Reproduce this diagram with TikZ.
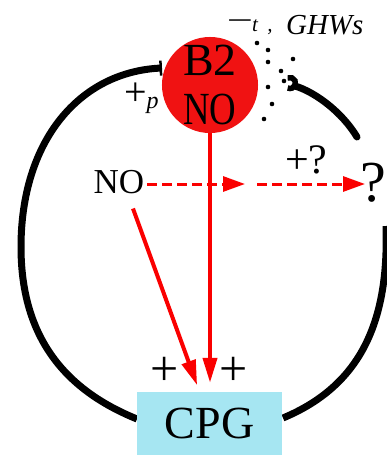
\documentclass[tikz,border=0pt]{standalone}
\usepackage{fontspec}
\setmainfont{Liberation Serif}
\usetikzlibrary{arrows.meta}
\definecolor{cpgblue}{RGB}{166,230,242}
\definecolor{nored}{RGB}{240,18,18}
\definecolor{arrred}{RGB}{250,0,0}
\begin{document}
\begin{tikzpicture}[x=1pt,y=-1pt,
  txt/.style={inner sep=0pt, anchor=base},
  redarr/.style={draw=arrred, line width=4pt, -{Triangle[length=25pt,width=14pt]}},
  dasharr/.style={draw=arrred, line width=3pt, dash pattern=on 10pt off 5pt, -{Triangle[length=22pt,width=15pt]}},
  loopline/.style={line width=7pt, draw=black},
  dotmark/.style={fill=black},
]
\useasboundingbox (0,0) rectangle (387,457);
\clip (0,0) rectangle (387,457);

% nodes
\node[circle, fill=nored, minimum size=96pt, inner sep=0pt, align=center,
      font=\fontsize{46}{49}\selectfont] (b2) at (210,85) {B2\\\scalebox{0.8}[1]{NO}};
\node[txt, font=\fontsize{35}{35}\selectfont] (no) at (119,193) {NO};
\node[txt, anchor=base west, font=\fontsize{58}{58}\selectfont] (qm) at (360.5,201) {?};

% black loop
\coordinate (rtop) at (386,226);
\coordinate (ur) at (357,137);
\coordinate (cup) at (290,83);
\draw[loopline, -{Bar[width=15pt,line width=2.5pt]}]
  (137,419) .. controls (73,393) and (21,345) .. (21,247)
  .. controls (21,140) and (80,72) .. (162,68);
\draw[loopline] (rtop) .. controls (389,320) and (362,385) .. (283,418);
\draw[loopline, line cap=round] (ur) .. controls (342,112) and (315,92) .. (295,86);
\draw[line width=5.5pt] (cup) ++(-115:5.5) arc[start angle=-115,end angle=115,radius=5.5];

% CPG box
\node[fill=cpgblue, minimum width=145pt, minimum height=63pt, inner sep=0pt,
      font=\fontsize{46}{46}\selectfont] (cpg) at (209.5,423.5) {\raisebox{-2.5pt}{CPG}};

% dotted marks
\foreach \p in {(257,43),(268,50),(268,62),(268,87),(272,104),(264,119),(293,59),(281,71),(284,81)}
  \fill[dotmark] \p circle[radius=2.3pt];

% labels
\node[txt, font=\fontsize{30}{30}\selectfont] (mn) at (240,31) {\scalebox{1.55}[1]{−}};
\node[txt, anchor=base west, font=\fontsize{21}{21}\selectfont\itshape] (tl) at (252,32) {t\hspace{0.45em},};
\node[txt, anchor=base west, font=\fontsize{29}{29}\selectfont\itshape] (ghw) at (286,35) {GHWs};
\node[txt, font=\fontsize{40}{40}\selectfont] (pp) at (135.5,106) {+};
\node[txt, anchor=base west, font=\fontsize{24}{24}\selectfont\itshape] (pl) at (146.5,109) {p};
\node[txt, anchor=base west, font=\fontsize{42}{42}\selectfont] (pq) at (285,173) {+?};
\node[txt, font=\fontsize{50}{50}\selectfont] (pl1) at (165,385) {+};
\node[txt, font=\fontsize{50}{50}\selectfont] (pl2) at (233.5,385) {+};

% red arrows
\coordinate (q1) at (245,184);
\coordinate (q2) at (257,184);
\coordinate (q3) at (365,184);
\draw[redarr, shorten >=9pt] (b2.south) -- (b2.south |- cpg.north);
\draw[redarr, shorten >=7pt] ([xshift=14pt,yshift=-15pt]no.south) -- ([xshift=-10pt]cpg.north);
\draw[dasharr] ([xshift=3pt]no.east |- q1) -- (q1);
\draw[dasharr] (q2) -- (q3);
\end{tikzpicture}
\end{document}
